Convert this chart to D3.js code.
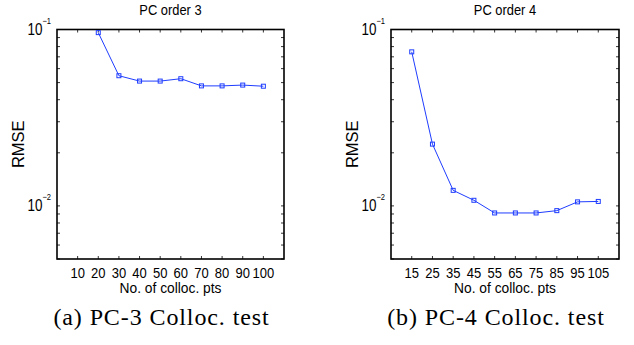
<!DOCTYPE html>
<html>
<head>
<meta charset="utf-8">
<script src="https://cdn.jsdelivr.net/npm/d3@7"></script>
<style>
  body { margin: 0; background: white; }
  svg { display: block; }
  .lbl { font-family: "Liberation Sans", Arial, sans-serif; }
  .caption { font-family: "Liberation Serif", "Times New Roman", serif; font-size: 24px; letter-spacing: 0.9px; }
</style>
</head>
<body>
<div id="container"></div>
<script>
const width = 634;
const height = 345;

// panel (a): PC order 3
const title3 = "PC order 3";
const caption3 = "(a) PC-3 Colloc. test";
const pts3 = [20, 30, 40, 50, 60, 70, 80, 90, 100];
const rmse3 = [0.096, 0.0547, 0.0510, 0.0510, 0.0526, 0.0479, 0.0479, 0.0484, 0.0477];
const xTicks3 = [10, 20, 30, 40, 50, 60, 70, 80, 90, 100];

// panel (b): PC order 4
const title4 = "PC order 4";
const caption4 = "(b) PC-4 Colloc. test";
const pts4 = [15, 25, 35, 45, 55, 65, 75, 85, 95, 105];
const rmse4 = [0.0747, 0.0224, 0.01225, 0.01076, 0.00912, 0.00912, 0.00912, 0.0094, 0.01054, 0.0106];
const xTicks4 = [15, 25, 35, 45, 55, 65, 75, 85, 95, 105];

const yMajor = [-1, -2];  // exponents of 10
const yLabel = "RMSE";
const xLabel = "No. of colloc. pts";

const lineColor = "#1f3dff";

let svg = d3.select("#container")
            .append("svg")
              .attr("width", width)
              .attr("height", height)
              .style("background-color", "white");

drawPanel({left: 57, right: 284, xDomain: [0, 110], xs: pts3, ys: rmse3, ticks: xTicks3,
           title: title3, caption: caption3});
drawPanel({left: 391, right: 619, xDomain: [5, 115], xs: pts4, ys: rmse4, ticks: xTicks4,
           title: title4, caption: caption4});

// narrow helvetica look: squeeze text horizontally around its anchor
function squeeze(x, y, sx){
  return "translate(" + x + "," + y + ") scale(" + sx + ",1)";
}

function drawPanel(p){
  let top = 29.5, bottom = 259;
  let x = d3.scaleLinear().domain(p.xDomain).range([p.left, p.right]);
  let y = d3.scaleLog().domain([0.005, 0.1]).range([bottom, top]);
  let g = svg.append("g");
  let cx = (p.left + p.right) / 2;

  // minor + major y ticks, inside on both sides
  g.selectAll(".ytick").data(y.ticks()).enter().append("path")
      .attr("d", function(d){
        let yy = y(d);
        return "M" + p.left + "," + yy + "h3M" + p.right + "," + yy + "h-3";
      })
      .attr("stroke", "black")
      .attr("stroke-width", 0.8);

  // x ticks, inside on top and bottom
  g.selectAll(".xtick").data(p.ticks).enter().append("path")
      .attr("d", function(d){
        let xx = x(d);
        return "M" + xx + "," + bottom + "v-3M" + xx + "," + top + "v3";
      })
      .attr("stroke", "black")
      .attr("stroke-width", 0.8);

  // box
  g.append("rect")
      .attr("x", p.left).attr("y", top)
      .attr("width", p.right - p.left).attr("height", bottom - top)
      .attr("fill", "none")
      .attr("stroke", "black")
      .attr("stroke-width", 1.6);

  // x tick labels
  g.selectAll(".xlab").data(p.ticks).enter().append("text")
      .attr("class", "lbl")
      .attr("transform", function(d){ return squeeze(x(d), 278, 0.84); })
      .attr("text-anchor", "middle")
      .style("font-size", "15.5px")
      .text(function(d){ return d; });

  // y tick labels 10^k
  let yl = g.selectAll(".ylab").data(yMajor).enter().append("text")
      .attr("class", "lbl")
      .attr("transform", function(d){ return squeeze(p.left - 6, y(Math.pow(10, d)) + 5, 0.84); })
      .attr("text-anchor", "end")
      .style("font-size", "16px");
  yl.append("tspan").text("10");
  yl.append("tspan").attr("dy", -11).style("font-size", "9px").text(function(d){ return "\u2212" + (-d); });

  // y label
  g.append("text")
      .attr("class", "lbl")
      .attr("transform", "translate(" + (p.left - 33) + "," + ((top + bottom) / 2) + ") rotate(-90)")
      .attr("text-anchor", "middle")
      .style("font-size", "16.5px")
      .text(yLabel);

  // x label
  g.append("text")
      .attr("class", "lbl")
      .attr("transform", squeeze(cx, 293, 0.92))
      .attr("text-anchor", "middle")
      .style("font-size", "15px")
      .text(xLabel);

  // title
  g.append("text")
      .attr("class", "lbl")
      .attr("transform", squeeze(cx, 15, 0.86))
      .attr("text-anchor", "middle")
      .style("font-size", "15px")
      .text(p.title);

  // caption
  g.append("text")
      .attr("class", "caption")
      .attr("x", cx - 9).attr("y", 325)
      .attr("text-anchor", "middle")
      .text(p.caption);

  // data line
  let data = p.xs.map(function(d, i){ return [d, p.ys[i]]; });
  let line = d3.line().x(function(d){ return x(d[0]); }).y(function(d){ return y(d[1]); });
  g.append("path")
      .datum(data)
      .attr("d", line)
      .attr("fill", "none")
      .attr("stroke", lineColor)
      .attr("stroke-width", 1);

  g.selectAll(".marker").data(data).enter().append("rect")
      .attr("x", function(d){ return x(d[0]) - 2; })
      .attr("y", function(d){ return y(d[1]) - 2; })
      .attr("width", 4).attr("height", 4)
      .attr("fill", "none")
      .attr("stroke", lineColor)
      .attr("stroke-width", 1);
}
</script>
</body>
</html>
